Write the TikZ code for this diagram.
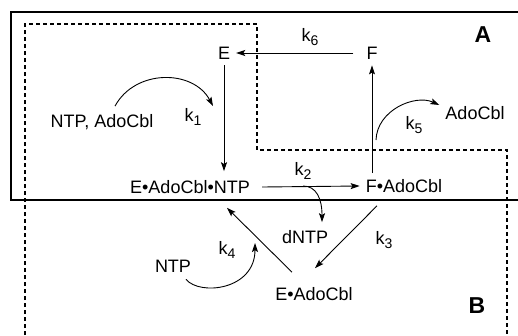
\documentclass[tikz,border=0pt]{standalone}
\usepackage{fontspec}
\setmainfont{Liberation Sans}
\usetikzlibrary{positioning,arrows.meta}
\newcommand{\rate}[1]{k\raisebox{-4pt}{\fontsize{14}{14}\selectfont#1}}

\begin{document}
\begin{tikzpicture}[x=1pt, y=-1pt,
  lbl/.style={font=\fontsize{18}{20}\selectfont, inner sep=6pt},
  tag/.style={font=\fontsize{23}{24}\selectfont\bfseries, inner sep=0pt},
  arr/.style={-{Stealth[length=9pt, width=6pt, inset=1.8pt]}, line width=0.9pt},
  frame/.style={line width=1.1pt},
  zone/.style={line width=1.2pt, dash pattern=on 4pt off 3pt}]
\useasboundingbox (0,0) rectangle (518,335);
% regions A and B
\draw[frame] (518,12) -- (11,12) -- (11,200) -- (518,200);
\draw[zone] (25,335) -- (25,24) -- (257,24) -- (257,150) -- (507,150) -- (507,335);
\node[tag] (A) at (483,35) {A};
\node[tag] (B) at (477,306) {B};
% species
\node[lbl] (E) at (224,53) {E};
\node[lbl] (F) at (372,53) {F};
\node[lbl] (ENTP) at (190,187) {E•AdoCbl•NTP};
\node[lbl] (FA) at (404,186) {F•AdoCbl};
\node[lbl] (EA) at (314,294) {E•AdoCbl};
\node[lbl] (NAC) at (102,122) {NTP, AdoCbl};
\node[lbl] (AC) at (475,113) {AdoCbl};
\node[lbl] (dN) at (305,237) {dNTP};
\node[lbl] (N) at (173,266) {NTP};
% rate constants
\node[lbl] (k1) at (193,117) {\rate{1}};
\node[lbl] (k2) at (303,171) {\rate{2}};
\node[lbl] (k3) at (384,240) {\rate{3}};
\node[lbl] (k4) at (227,250) {\rate{4}};
\node[lbl] (k5) at (414,125) {\rate{5}};
\node[lbl] (k6) at (310,37) {\rate{6}};
\coordinate (k1end) at (213,106);
\coordinate (k5start) at (376,140);
\coordinate (k4end) at (255,243);
% steps
\draw[arr] ([xshift=-7pt]F.west) -- (E.east);
\draw[arr] (E.south) -- ([yshift=3pt]E.south |- ENTP.north);
\draw[arr] ([xshift=6pt]ENTP.east) -- (FA.west);
\draw[arr] (FA.north -| F) -- (F.south);
\draw[arr] ([xshift=-27pt,yshift=-7pt]FA.south) -- ([xshift=1pt,yshift=13pt]EA.north);
\draw[arr] ([xshift=-22pt,yshift=9pt]EA.north) -- ([xshift=37pt,yshift=-8pt]ENTP.south);
% bound and released ligands
\draw[arr] ([xshift=13pt,yshift=2pt]NAC.north) .. controls (135,69) and (193,69) .. (k1end);
\draw[arr] (k5start) .. controls (377,110) and (415,94) .. ([yshift=8pt]AC.west);
\draw[arr] ([xshift=47pt,yshift=1pt]ENTP.east) .. controls (316,186) and (322,198) .. ([xshift=17pt,yshift=2pt]dN.north);
\draw[arr] ([xshift=13pt,yshift=-1pt]N.south) .. controls (200,296) and (255,290) .. (k4end);
\end{tikzpicture}
\end{document}
